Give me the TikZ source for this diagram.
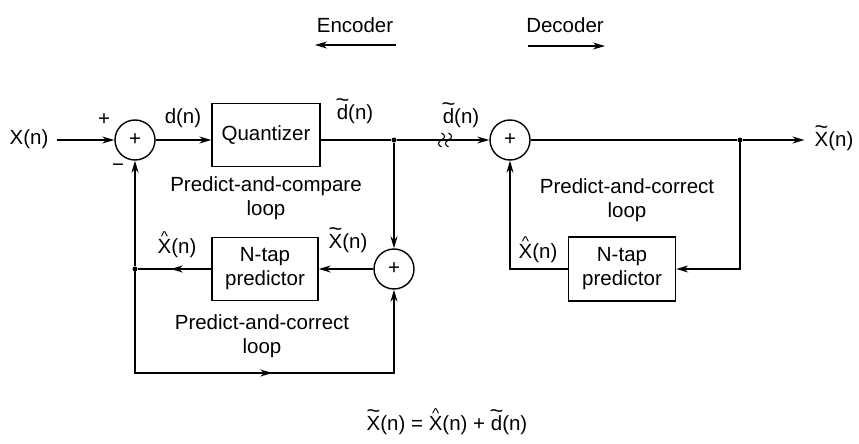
\documentclass[tikz,border=0pt]{standalone}
\usepackage{fontspec}
\usepackage{graphicx}
\setmainfont{Liberation Sans}
\setsansfont{Liberation Sans}
\usetikzlibrary{arrows.meta,decorations.markings}
\newcommand{\tilacc}[1]{\ooalign{#1\cr\hidewidth\raisebox{0.56em}{\scalebox{1.15}[1.1]{\textasciitilde}}\hidewidth\cr}}
\newcommand{\hatacc}[1]{\ooalign{#1\cr\hidewidth\raisebox{0.56em}{\scalebox{0.75}[0.7]{\textasciicircum}}\hidewidth\cr}}
\newcommand{\Xtil}{\tilacc{X}(n)}
\newcommand{\Xhat}{\hatacc{X}(n)}
\newcommand{\dtil}{\tilacc{d}(n)}
\tikzset{
  myarrow/.tip={Stealth[length=12pt,width=7pt]},
  wire/.style={line width=1.4pt},
  arr/.style={wire,-myarrow},
  midarr/.style={wire,postaction={decorate},
    decoration={markings,mark=at position #1 with {\arrow{myarrow}}}},
  sumnode/.style={circle,draw,line width=1.4pt,minimum size=40pt,inner sep=0pt},
  blockbox/.style={draw,line width=1.4pt,inner sep=0pt,align=center},
  lab/.style={anchor=base,inner sep=0pt},
  dot/.style={circle,fill,inner sep=0pt,minimum size=5pt},
}
\begin{document}
\begin{tikzpicture}[x=1pt,y=-1pt,
  every node/.append style={font=\fontsize{20.5}{24}\selectfont}]
\useasboundingbox (0,0) rectangle (859,444);

% blocks
\node[sumnode] (s1) at (135,140) {+};
\node[blockbox,minimum width=108pt,minimum height=63pt] (q) at (266,135) {Quantizer};
\node[dot] (j1) at (394,140) {};
\node[sumnode] (s2) at (510,140) {+};
\node[dot] (j2) at (740,140) {};
\node[blockbox,minimum width=106pt,minimum height=63pt] (p1) at (265,269) {N-tap\\predictor};
\node[sumnode] (s3) at (394,269) {+};
\node[dot] (jl) at (135,269) {};
\node[blockbox,minimum width=107pt,minimum height=64pt] (p2) at (622,269) {N-tap\\predictor};
\coordinate (bl) at (135,373);
\coordinate (br) at (394,373);
\coordinate (rc) at (740,269);
\coordinate (lc) at (510,269);
\coordinate (sq) at (445,140);

% labels
\node[lab] (xin) at (29,144) {X(n)};
\node[lab] (xout) at (834,146) {\Xtil};
\node[lab] (ldn) at (183,123) {d(n)};
\node[lab] (ldq) at (355,119) {\dtil};
\node[lab] (ldc) at (461,123) {\dtil};
\node (plus1) at (104,120) {+};
\node (minus1) at (118,168) {−};
\node[lab] (lxh1) at (177,253) {\Xhat};
\node[lab] (lxt1) at (348,248) {\Xtil};
\node[lab] (lxh2) at (538,258) {\Xhat};
\node[align=center] (lpcmp) at (266,198) {Predict-and-compare\\loop};
\node[align=center] (lpcor1) at (262,336) {Predict-and-correct\\loop};
\node[align=center] (lpcor2) at (627,200) {Predict-and-correct\\loop};
\node (enc) at (355,25) {Encoder};
\node (dec) at (565,25) {Decoder};
\coordinate (encA) at (396,45);
\coordinate (encB) at (315,45);
\coordinate (decA) at (528,46);
\coordinate (decB) at (605,46);
\node[lab] (eqn) at (447,430) {\Xtil{} = \Xhat{} + \dtil};

% connectors
\draw[arr] ([xshift=8pt]xin.east |- s1) -- (s1);
\draw[arr] (s1) -- (s1 -| q.west);
\draw[wire] (q.east |- j1) -- (j1);
\draw[arr] (j1) -- (s2);
\draw[arr] (j1) -- (s3);
\draw[arr] (s3) -- (p1);
\draw[midarr=0.55] (p1) -- (jl);
\draw[arr] (jl) -- (s1);
\draw[arr] (jl.center) -- (bl) -- (br) -- (s3);
\draw[midarr=0.53] (bl) -- (br);
\draw[wire] (s2) -- (j2);
\draw[arr] (j2) -- ([xshift=-10pt]xout.west |- j2);
\draw[arr] (j2.center) -- (rc) -- (p2);
\draw[arr] (p2) -- (lc) -- (s2);
\draw[arr,line width=1.2pt] (encA) -- (encB);
\draw[arr,line width=1.2pt] (decA) -- (decB);

% channel squiggle
\draw[line width=1.1pt] ([shift={(-3.5,-7)}]sq) .. controls +(4,2) and +(4,-2) .. +(0,7) .. controls +(-4,2) and +(-4,-2) .. +(0,14);
\draw[line width=1.1pt] ([shift={(3.5,-7)}]sq) .. controls +(4,2) and +(4,-2) .. +(0,7) .. controls +(-4,2) and +(-4,-2) .. +(0,14);
\end{tikzpicture}
\end{document}
